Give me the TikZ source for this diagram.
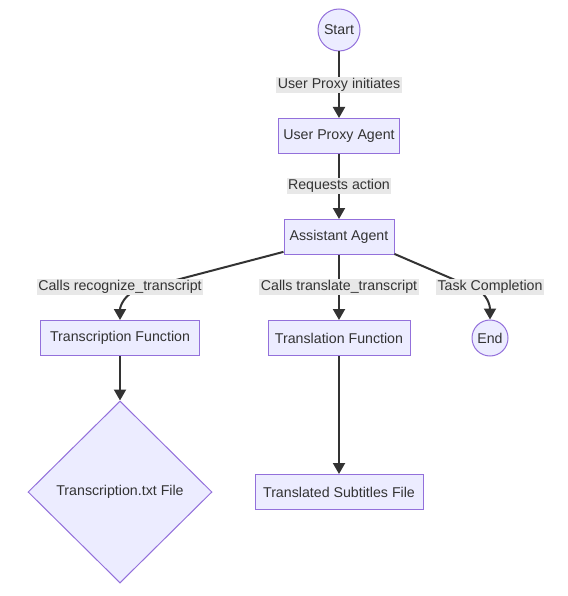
\documentclass[tikz,border=0pt]{standalone}
\usepackage{fontspec}
\setmainfont{Liberation Sans}
\definecolor{nodefill}{RGB}{236, 236, 255}
\definecolor{nodeline}{RGB}{147, 112, 219}
\definecolor{edgegray}{RGB}{51, 51, 51}
\definecolor{labelbg}{RGB}{232, 232, 232}
\usetikzlibrary{shapes.geometric, arrows.meta, positioning}

\begin{document}
\begin{tikzpicture}[x=1pt, y=1pt,
  every node/.style={font=\fontsize{14.2}{16}\selectfont, text=edgegray},
  box/.style={draw=nodeline, fill=nodefill, line width=1pt, minimum height=35, inner sep=0pt},
  terminal/.style={draw=nodeline, fill=nodefill, line width=1pt, circle, inner sep=0pt},
  filebox/.style={draw=nodeline, fill=nodefill, line width=1pt, diamond, inner sep=0pt},
  edgelabel/.style={fill=labelbg, inner sep=1.5pt},
  arr/.style={-{Triangle[length=11pt, width=12pt]}, line width=2pt, draw=edgegray}]
  \useasboundingbox (0,0) rectangle (567,-596);

  % Top of the flow
  \node[terminal, minimum size=42] (start) at (339,-30) {Start};
  \node[box, minimum width=121] (userproxy) at (339,-136) {User Proxy Agent};
  \node[box, minimum width=110] (assistant) at (339,-237) {Assistant Agent};

  % Functions
  \node[box, minimum width=159] (transcription) at (120,-338) {Transcription Function};
  \node[box, minimum width=142] (translation) at (339,-338) {Translation Function};
  \node[terminal, minimum size=36] (stop) at (490,-338) {End};

  % Outputs
  \node[filebox, minimum width=184, minimum height=182] (txtfile) at (120,-492) {Transcription.txt File};
  \node[box, minimum width=168] (subtitles) at (339,-492) {Translated Subtitles File};

  % Edges
  \coordinate (bendL) at (138,-290);
  \coordinate (bendR) at (476,-289);
  \draw[arr] (start) -- (userproxy);
  \draw[arr] (userproxy) -- (assistant);
  \draw[arr] (assistant.195) -- (bendL) to[out=195, in=90] (transcription);
  \draw[arr] (assistant) -- (translation);
  \draw[arr] (assistant.-17) -- (bendR) to[out=-25, in=90] (stop);
  \draw[arr] (transcription) -- (txtfile);
  \draw[arr] (translation) -- (subtitles);

  % Edge labels
  \node[edgelabel] (lab1) at (339,-85) {User Proxy initiates};
  \node[edgelabel] (lab2) at (339,-186) {Requests action};
  \node[edgelabel] (lab3) at (120,-287) {Calls recognize\_transcript};
  \node[edgelabel] (lab4) at (339,-287) {Calls translate\_transcript};
  \node[edgelabel] (lab5) at (490,-287) {Task Completion};
\end{tikzpicture}
\end{document}
